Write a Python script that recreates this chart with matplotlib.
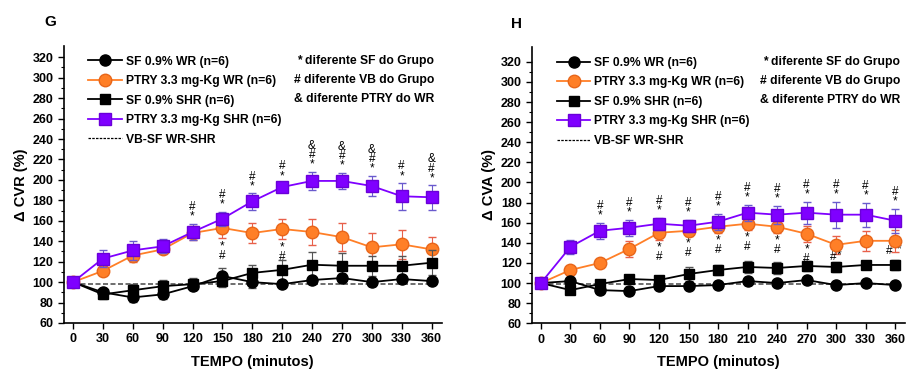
import matplotlib
matplotlib.use("Agg")
import matplotlib.pyplot as plt
from matplotlib.lines import Line2D

plt.rcParams['font.family'] = ['Liberation Sans', 'DejaVu Sans']
plt.rcParams['font.weight'] = 'bold'

tempo = [0, 30, 60, 90, 120, 150, 180, 210, 240, 270, 300, 330, 360]

# painel G - CVR
cvr_sf_wr = [100, 90, 85, 88, 96, 106, 100, 98, 102, 104, 100, 103, 101]
cvr_sf_wr_err = [0, 4, 4, 5, 4, 8, 6, 3, 4, 4, 4, 4, 3]
cvr_ptry_wr = [100, 111, 126, 132, 148, 153, 148, 152, 149, 144, 134, 137, 132]
cvr_ptry_wr_err = [0, 4, 6, 4, 7, 10, 10, 10, 13, 14, 14, 14, 12]
cvr_sf_shr = [100, 88, 92, 96, 98, 101, 109, 112, 117, 116, 116, 116, 119]
cvr_sf_shr_err = [0, 5, 6, 6, 6, 6, 8, 10, 12, 12, 10, 10, 12]
cvr_ptry_shr = [100, 123, 131, 135, 149, 162, 179, 193, 199, 199, 194, 184, 183]
cvr_ptry_shr_err = [0, 8, 9, 7, 8, 7, 8, 4, 9, 8, 10, 13, 12]
cvr_vb = 98

# painel H - CVA
cva_sf_wr = [100, 102, 93, 92, 97, 97, 98, 102, 100, 103, 98, 100, 98]
cva_sf_wr_err = [0, 3, 3, 4, 3, 3, 3, 4, 3, 3, 3, 3, 3]
cva_ptry_wr = [100, 113, 120, 134, 150, 152, 156, 159, 156, 149, 138, 142, 142]
cva_ptry_wr_err = [0, 3, 3, 8, 7, 5, 6, 6, 6, 8, 9, 10, 11]
cva_sf_shr = [100, 93, 99, 104, 103, 109, 113, 116, 115, 117, 116, 118, 118]
cva_sf_shr_err = [0, 3, 4, 4, 4, 7, 5, 6, 6, 5, 5, 4, 5]
cva_ptry_shr = [100, 136, 152, 155, 159, 157, 161, 170, 168, 170, 168, 168, 162]
cva_ptry_shr_err = [0, 7, 8, 8, 6, 6, 8, 8, 9, 11, 13, 12, 12]
cva_vb = 99

# marcas de significancia
cvr_top_marks = {120: "#\n*", 150: "#\n*", 180: "#\n*", 210: "#\n*",
                 240: "&\n#\n*", 270: "&\n#\n*", 300: "&\n#\n*",
                 330: "#\n*", 360: "&\n#\n*"}
cvr_low_marks = {150: "*\n#", 210: "*\n#"}
cva_top_marks = {t: "#\n*" for t in tempo[2:]}
cva_low_marks = {120: "*\n#", 150: "*\n#", 180: "*\n#", 210: "*\n#",
                 240: "*\n#", 270: "*\n#"}

labels = ["SF 0.9% WR (n=6)", "PTRY 3.3 mg-Kg WR (n=6)",
          "SF 0.9% SHR (n=6)", "PTRY 3.3 mg-Kg SHR (n=6)", "VB-SF WR-SHR"]
notes = ["* diferente SF do Grupo", "# diferente VB do Grupo",
         "& diferente PTRY do WR"]

orange = '#FF7F27'
purple = '#7F00FF'


def painel(ax, s1, e1, s2, e2, s3, e3, s4, e4, vb, top_marks, low_marks, ylabel, ytop,
           leg_anchor, note_ys, note_x):
    ax.plot([0, 360], [vb, vb], ls='--', color='#555555', lw=1.2, zorder=1, dashes=(3, 1.5))
    ax.errorbar(tempo, s1, yerr=e1, color='black', ecolor='#555555', marker='o', ms=8,
                lw=1.3, capsize=3, elinewidth=0.8, zorder=4)
    ax.errorbar(tempo, s3, yerr=e3, color='black', ecolor='#555555', marker='s', ms=7.5,
                lw=1.3, capsize=3, elinewidth=0.8, zorder=4)
    ax.errorbar(tempo, s2, yerr=e2, color=orange, mec='#E8661A', ecolor='#E8604A', marker='o',
                ms=9, lw=1.3, capsize=3, elinewidth=0.8, zorder=3)
    ax.errorbar(tempo, s4, yerr=e4, color=purple, mec='#6A00D8', ecolor='#6A5ACD', marker='s',
                ms=8, lw=1.3, capsize=3, elinewidth=0.8, zorder=5)

    for t, txt in top_marks.items():
        i = tempo.index(t)
        ax.text(t, s4[i] + e4[i] + 1, txt, ha='center', va='bottom', fontsize=8.5,
                fontweight='normal', linespacing=0.72)
    for t, txt in low_marks.items():
        i = tempo.index(t)
        ax.text(t, s2[i] - e2[i] - 2, txt, ha='center', va='top', fontsize=8.5,
                fontweight='normal', linespacing=0.72)

    ax.set_xlim(-9, 370)
    ax.set_ylim(60, ytop)
    ax.set_xticks(tempo)
    ax.set_yticks(range(60, 330, 20))
    ax.set_yticks(range(60, 330, 10), minor=True)
    ax.tick_params(axis='both', which='major', labelsize=9, length=4, width=1)
    ax.tick_params(axis='y', which='minor', length=2.5, width=0.8)
    for lab in ax.get_xticklabels() + ax.get_yticklabels():
        lab.set_fontweight('bold')
    ax.spines['top'].set_visible(False)
    ax.spines['right'].set_visible(False)
    ax.spines['left'].set_linewidth(1.2)
    ax.spines['bottom'].set_linewidth(1.2)
    ax.set_xlabel("TEMPO (minutos)", fontsize=10.5, fontweight='bold', labelpad=7)
    ax.set_ylabel(ylabel, fontsize=10.5, fontweight='bold', labelpad=3)

    handles = [
        Line2D([], [], color='black', marker='o', ms=8, lw=1.3),
        Line2D([], [], color=orange, mec='#E8661A', marker='o', ms=9, lw=1.3),
        Line2D([], [], color='black', marker='s', ms=7.5, lw=1.3),
        Line2D([], [], color=purple, mec='#6A00D8', marker='s', ms=8, lw=1.3),
        Line2D([], [], color='black', ls='--', lw=0.9, dashes=(2, 1)),
    ]
    leg = ax.legend(handles, labels, loc='upper left', frameon=False, fontsize=8.7,
                    handlelength=2.8, handletextpad=0.3, labelspacing=0.62,
                    borderaxespad=0, bbox_to_anchor=leg_anchor)
    for t in leg.get_texts():
        t.set_fontweight('bold')
    for y, n in zip(note_ys, notes):
        ax.text(note_x, y, n, transform=ax.transAxes, ha='right', va='center',
                fontsize=8.7, fontweight='bold')


fig = plt.figure(figsize=(9.07, 3.71), dpi=100)
ax1 = fig.add_axes([0.0706, 0.1294, 0.4162, 0.7466])
ax2 = fig.add_axes([0.5866, 0.1286, 0.4112, 0.7455])

painel(ax1, cvr_sf_wr, cvr_sf_wr_err, cvr_ptry_wr, cvr_ptry_wr_err,
       cvr_sf_shr, cvr_sf_shr_err, cvr_ptry_shr, cvr_ptry_shr_err, cvr_vb,
       cvr_top_marks, cvr_low_marks, "Δ CVR (%)", 331,
       (0.051, 0.983), [0.947, 0.877, 0.81], 0.981)
painel(ax2, cva_sf_wr, cva_sf_wr_err, cva_ptry_wr, cva_ptry_wr_err,
       cva_sf_shr, cva_sf_shr_err, cva_ptry_shr, cva_ptry_shr_err, cva_vb,
       cva_top_marks, cva_low_marks, "Δ CVA (%)", 335,
       (0.053, 0.981), [0.946, 0.876, 0.809], 0.987)

# marcas laterais no painel H
ax2.text(300, 126, "#", ha='right', va='center', fontsize=8.5, fontweight='normal')
ax2.text(301, 127, "*", ha='left', va='center', fontsize=8.5, fontweight='normal')
ax2.text(357, 132, "#", ha='right', va='center', fontsize=8.5, fontweight='normal')
ax2.text(362, 133, "*", ha='left', va='center', fontsize=8.5, fontweight='normal')

fig.text(0.055, 0.94, "G", fontsize=11, fontweight='bold', ha='center', va='center')
fig.text(0.569, 0.935, "H", fontsize=11, fontweight='bold', ha='center', va='center')

fig.savefig("out.png", dpi=100)
